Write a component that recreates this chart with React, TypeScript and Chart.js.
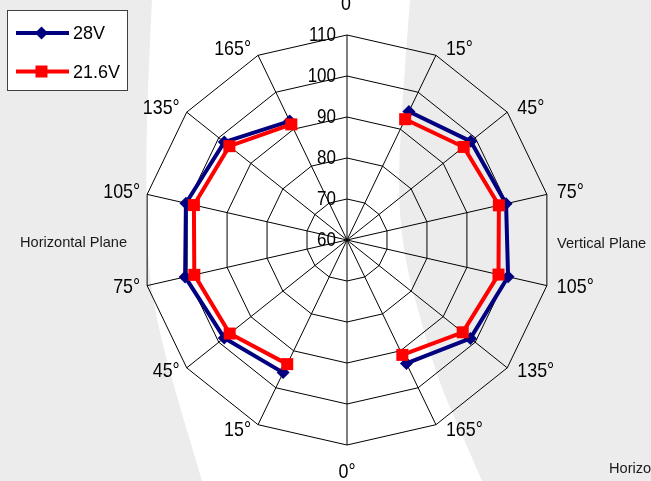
import { useEffect, useRef } from "react";
import { Chart, registerables } from "chart.js";

Chart.register(...registerables);

// ---- data ----
const angleLabels = ["0", "15°", "45°", "75°", "105°", "135°", "165°", "0°", "15°", "45°", "75°", "105°", "135°", "165°"];
const series28V: (number | null)[] = [null, 94.8, 98.6, 99.8, 100.3, 98.5, 93.4, null, 95.9, 98.3, 100.5, 100.3, 98.3, 92.2];
const series216V: (number | null)[] = [null, 92.7, 96.4, 98.0, 97.9, 96.1, 91.1, null, 93.6, 96.6, 98.2, 98.3, 96.7, 91.3];
const radialTicks = [60, 70, 80, 90, 100, 110];
const seriesNames = ["28V", "21.6V"];
const planeTexts = ["Horizontal Plane", "Vertical Plane", "Horizo"];

const NAVY = "#000080";
const RED = "#ff0000";
const FONT = "'Liberation Sans', Arial, sans-serif";

function smoothPath(ctx: CanvasRenderingContext2D, pts: number[][], moveFirst: boolean) {
  if (moveFirst) ctx.moveTo(pts[0][0], pts[0][1]);
  else ctx.lineTo(pts[0][0], pts[0][1]);
  for (let i = 1; i < pts.length - 1; i++) {
    const mx = (pts[i][0] + pts[i + 1][0]) / 2;
    const my = (pts[i][1] + pts[i + 1][1]) / 2;
    ctx.quadraticCurveTo(pts[i][0], pts[i][1], mx, my);
  }
  const last = pts[pts.length - 1];
  ctx.lineTo(last[0], last[1]);
}

const backgroundPlugin = {
  id: "bgBand",
  beforeDraw(chart: any) {
    const ctx = chart.ctx as CanvasRenderingContext2D;
    ctx.save();
    ctx.fillStyle = "#ececec";
    ctx.fillRect(0, 0, chart.width, chart.height);
    const left = [[152, 0], [147, 100], [146, 200], [149, 280], [163, 347], [177, 397], [202, 481]];
    const right = [[410, 0], [401, 120], [398, 200], [405, 260], [417, 307], [438, 380], [460, 430], [482, 481]];
    ctx.beginPath();
    smoothPath(ctx, left, true);
    smoothPath(ctx, right.slice().reverse(), false);
    ctx.closePath();
    ctx.fillStyle = "#ffffff";
    ctx.fill();
    ctx.restore();
  },
};

function drawScaledText(ctx: CanvasRenderingContext2D, text: string, x: number, y: number, align: CanvasTextAlign, size: number, sx: number) {
  ctx.save();
  ctx.translate(x, y);
  ctx.scale(sx, 1);
  ctx.font = `${size}px ${FONT}`;
  ctx.textAlign = align;
  ctx.textBaseline = "alphabetic";
  ctx.fillStyle = "#000";
  ctx.fillText(text, 0, 0);
  ctx.restore();
}

const labelsPlugin = {
  id: "customLabels",
  afterDraw(chart: any) {
    const ctx = chart.ctx as CanvasRenderingContext2D;
    const scale = chart.scales.r;
    const max = radialTicks[radialTicks.length - 1];
    ctx.save();
    // radial tick labels
    radialTicks.forEach((v) => {
      const d = scale.getDistanceFromCenterForValue(v);
      drawScaledText(ctx, String(v), scale.xCenter - 11, scale.yCenter - d + 5.5, "right", 20, 0.85);
    });
    // point labels
    angleLabels.forEach((lab, i) => {
      const p = scale.getPointPositionForValue(i, max);
      const theta = (i / angleLabels.length) * Math.PI * 2;
      const s = Math.sin(theta);
      const c = Math.cos(theta);
      if (Math.abs(s) < 0.01) {
        if (c > 0) drawScaledText(ctx, lab, p.x - 1, p.y - 25.5, "center", 21, 0.85);
        else drawScaledText(ctx, lab, p.x, p.y + 32.5, "center", 21, 0.85);
      } else {
        const base = p.y - 2 - 6.5 * c + 7.5;
        if (s > 0) drawScaledText(ctx, lab, p.x + 10, base, "left", 21, 0.85);
        else drawScaledText(ctx, lab, p.x - 7, base, "right", 21, 0.85);
      }
    });
    // plane captions
    ctx.font = `14.6px ${FONT}`;
    ctx.fillStyle = "#1a1a1a";
    ctx.textAlign = "left";
    ctx.textBaseline = "alphabetic";
    ctx.fillText(planeTexts[0], 20, 246.5);
    ctx.fillText(planeTexts[1], 557, 248);
    ctx.fillText(planeTexts[2], 609, 472.5);

    // legend
    ctx.fillStyle = "#ffffff";
    ctx.fillRect(7.5, 10.5, 120, 80);
    ctx.strokeStyle = "#404040";
    ctx.lineWidth = 1;
    ctx.strokeRect(7.5, 10.5, 120, 80);
    const ds = chart.data.datasets;
    const rows = [33, 71.5];
    rows.forEach((y, k) => {
      const col = ds[k].borderColor;
      ctx.strokeStyle = col;
      ctx.lineWidth = 4;
      ctx.beginPath();
      ctx.moveTo(16, y);
      ctx.lineTo(69, y);
      ctx.stroke();
      ctx.fillStyle = col;
      ctx.beginPath();
      if (ds[k].pointStyle === "rectRot") {
        const r = 6.5;
        ctx.moveTo(41.5, y - r);
        ctx.lineTo(41.5 + r, y);
        ctx.lineTo(41.5, y + r);
        ctx.lineTo(41.5 - r, y);
        ctx.closePath();
      } else {
        ctx.rect(41.5 - 6, y - 6, 12, 12);
      }
      ctx.fill();
      ctx.font = `18px ${FONT}`;
      ctx.fillStyle = "#000";
      ctx.textAlign = "left";
      ctx.fillText(seriesNames[k], 73, y + 6);
    });
    ctx.restore();
  },
};

export default function App() {
  const ref = useRef<HTMLCanvasElement | null>(null);
  useEffect(() => {
    if (!ref.current) return;
    const chart = new Chart(ref.current, {
      type: "radar",
      data: {
        labels: angleLabels,
        datasets: [
          {
            label: seriesNames[0],
            data: series28V,
            borderColor: NAVY,
            backgroundColor: NAVY,
            pointBackgroundColor: NAVY,
            pointBorderColor: NAVY,
            borderWidth: 4,
            pointStyle: "rectRot",
            pointRadius: 6.5,
            pointBorderWidth: 0,
            fill: false,
            spanGaps: false,
            tension: 0,
            order: 1,
          },
          {
            label: seriesNames[1],
            data: series216V,
            borderColor: RED,
            backgroundColor: RED,
            pointBackgroundColor: RED,
            pointBorderColor: RED,
            borderWidth: 4,
            pointStyle: "rect",
            pointRadius: 8.5,
            pointBorderWidth: 0,
            fill: false,
            spanGaps: false,
            tension: 0,
            order: 0,
          },
        ],
      } as any,
      options: {
        responsive: false,
        animation: false,
        events: [],
        layout: { padding: { left: 142, right: 99, top: 35, bottom: 36 } },
        plugins: { legend: { display: false }, tooltip: { enabled: false } },
        scales: {
          r: {
            min: radialTicks[0],
            max: radialTicks[radialTicks.length - 1],
            ticks: { display: false, stepSize: 10 },
            pointLabels: { display: false },
            grid: { color: "#000", lineWidth: 1, circular: false },
            angleLines: { display: true, color: "#000", lineWidth: 1 },
          },
        },
      } as any,
      plugins: [backgroundPlugin, labelsPlugin],
    });
    return () => chart.destroy();
  }, []);
  return (
    <div style={{ position: "absolute", left: 0, top: 0, width: 651, height: 481 }}>
      <canvas ref={ref} width={651} height={481} style={{ display: "block", width: 651, height: 481 }} />
    </div>
  );
}
